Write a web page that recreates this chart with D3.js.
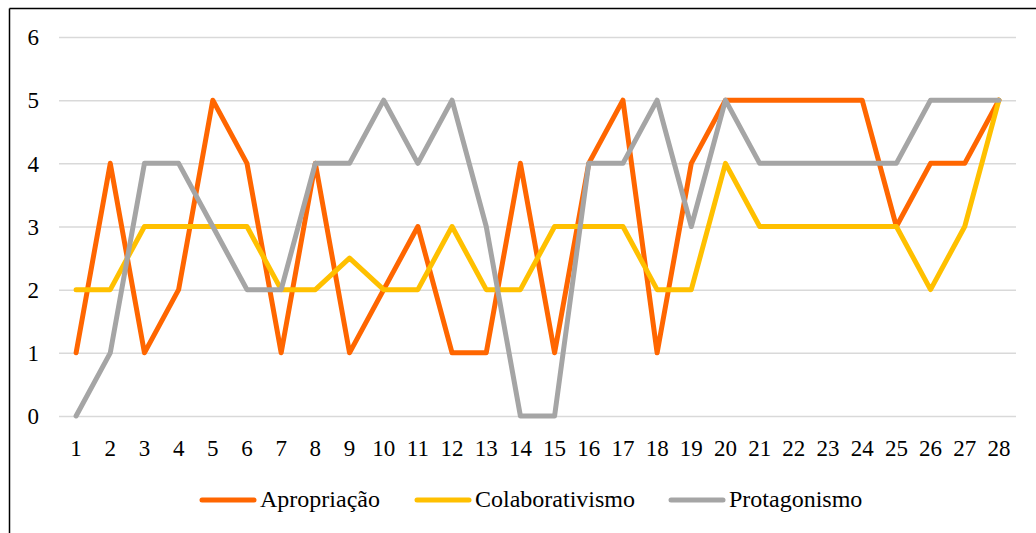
<!DOCTYPE html>
<html>
<head>
<meta charset="utf-8">
<script src="https://cdn.jsdelivr.net/npm/d3@7"></script>
<style>
  body { margin: 0; background: #fff; }
  svg { display: block; font-family: "Liberation Serif", "Times New Roman", serif; }
  .grid line { stroke: #d9d9d9; stroke-width: 1.5; }
  .grid path { display: none; }
  .axis text { font-size: 23px; fill: #000; }
  .series { fill: none; stroke-width: 5; stroke-linejoin: round; stroke-linecap: round; }
</style>
</head>
<body>
<script>
const WIDTH = 1036;
const HEIGHT = 533;

// data
var categories = d3.range(1, 29);
var seriesNames = ['Apropriação', 'Colaborativismo', 'Protagonismo'];
var seriesColors = ['#ff6600', '#ffc000', '#a5a5a5'];
var apropriacao = [1,4,1,2,5,4,1,4,1,2,3,1,1,4,1,4,5,1,4,5,5,5,5,5,3,4,4,5];
var colaborativismo = [2,2,3,3,3,3,2,2,2.5,2,2,3,2,2,3,3,3,2,2,4,3,3,3,3,3,2,3,5];
var protagonismo = [0,1,4,4,3,2,2,4,4,5,4,5,3,0,0,4,4,5,3,5,4,4,4,4,4,5,5,5];
var yTicks = [0,1,2,3,4,5,6];

var seriesValues = [apropriacao, colaborativismo, protagonismo];

var svg = d3.select('body')
  .append('svg')
  .attr('width', WIDTH)
  .attr('height', HEIGHT);

// frame (left and top edges only show)
svg.append('line').attr('x1', 9.5).attr('x2', 9.5).attr('y1', 8.5).attr('y2', HEIGHT)
  .attr('stroke', '#000').attr('stroke-width', 1.5);
svg.append('line').attr('x1', 9.5).attr('x2', WIDTH).attr('y1', 8.5).attr('y2', 8.5)
  .attr('stroke', '#000').attr('stroke-width', 1.5);

var xScale = d3.scaleBand().domain(categories).range([59, 1016]);
var yScale = d3.scaleLinear().domain([0, 6]).range([416, 37]);

// gridlines
svg.append('g')
  .classed('grid', true)
  .attr('transform', 'translate(59,0)')
  .call(d3.axisLeft(yScale).tickValues(yTicks).tickSize(-(1016 - 59)).tickFormat(''));

// y axis labels
var yAxis = svg.append('g')
  .classed('axis', true)
  .attr('transform', 'translate(39,0)')
  .call(d3.axisLeft(yScale).tickValues(yTicks).tickFormat(d3.format('d')).tickSize(0).tickPadding(0));
yAxis.attr('font-family', null).attr('font-size', null);
yAxis.select('.domain').remove();
yAxis.selectAll('text').attr('dy', '0.34em');

// x axis labels
var xAxis = svg.append('g')
  .classed('axis', true)
  .attr('transform', 'translate(0,428)')
  .call(d3.axisBottom(xScale).tickSize(0).tickPadding(0));
xAxis.attr('font-family', null).attr('font-size', null);
xAxis.select('.domain').remove();
xAxis.selectAll('text').attr('dy', '1.2em');

var line = d3.line()
  .x(function(d, i){ return xScale(categories[i]) + xScale.bandwidth() / 2; })
  .y(function(d){ return yScale(d); });

svg.append('g')
  .selectAll('path')
  .data(seriesValues)
  .enter()
  .append('path')
  .classed('series', true)
  .attr('stroke', function(d, i){ return seriesColors[i]; })
  .attr('d', line);

// legend
var legendX = [200, 415, 669];
var legend = svg.append('g')
  .selectAll('g')
  .data(seriesNames)
  .enter()
  .append('g')
  .attr('transform', function(d, i){ return 'translate(' + legendX[i] + ',500)'; });
legend.append('line')
  .attr('x1', 2).attr('x2', 54).attr('y1', 0).attr('y2', 0)
  .attr('stroke', function(d, i){ return seriesColors[i]; })
  .attr('stroke-width', 5)
  .attr('stroke-linecap', 'round');
legend.append('text')
  .attr('x', 60)
  .attr('y', 7)
  .attr('font-size', 24)
  .text(function(d){ return d; });
</script>
</body>
</html>
